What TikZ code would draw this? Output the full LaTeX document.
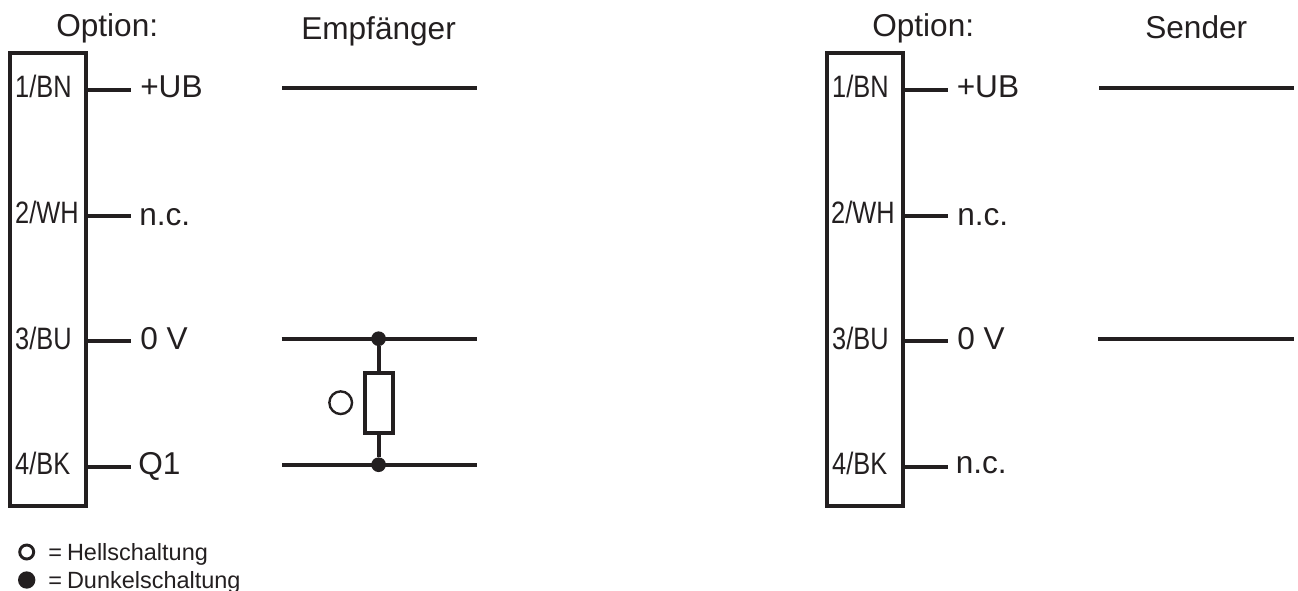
\documentclass[tikz,border=0pt]{standalone}
\usepackage{fontspec}
\setmainfont{Liberation Sans}
\definecolor{ink}{HTML}{231F20}
\tikzset{
 wire/.style={line width=3pt,color=ink},
 connbox/.style={draw=ink,line width=3.1pt,inner sep=0,outer sep=0,minimum width=57pt,minimum height=340pt,anchor=north west},
 big/.style={inner sep=0,text=ink,font=\fontsize{23.7}{26}\selectfont,anchor=base west},
 pin/.style={inner sep=0,text=ink,font=\fontsize{23.2}{26}\selectfont,anchor=base west,xscale=.82},
 small/.style={inner sep=0,text=ink,font=\fontsize{17.6}{20}\selectfont,anchor=base west},
 dot/.style={circle,fill=ink,inner sep=0,outer sep=0,minimum size=11pt},
}
\begin{document}
\begin{tikzpicture}[x=0.75pt,y=-0.75pt]
\useasboundingbox (0,0) rectangle (1298,590);
\node[connbox] (boxL) at (10,53) {};
\node[connbox] (boxR) at (827,53) {};
\node[big] (optL) at (56,36) {Option:};
\node[big] (emp) at (301,39) {Empfänger};
\node[big] (optR) at (872,36) {Option:};
\node[big] (sen) at (1145,38) {Sender};
\foreach \n/\t/\y/\b/\xa/\xb in {1/1\slash BN/90/97/15/832,2/2\slash WH/215.5/223/15/831,3/3\slash BU/341/349/15/832,4/4\slash BK/467/474/15/832}{
 \node[pin] (pl\n) at (\xa,\b) {\t};
 \node[pin] (pr\n) at (\xb,\b) {\t};
 \coordinate (bl\n) at (131,\y);
 \coordinate (br\n) at (948,\y);
 \draw[wire] (boxL.east |- bl\n) -- (bl\n);
 \draw[wire] (boxR.east |- br\n) -- (br\n);
}
\node[big] (lab1) at (140,97) {+UB};
\node[big] (lab2) at (139,225) {n.c.};
\node[big] (lab3) at (140,349) {0 V};
\node[big] (lab4) at (138,474) {Q1};
\node[big] (rab1) at (956.5,97) {+UB};
\node[big] (rab2) at (957,225) {n.c.};
\node[big] (rab3) at (957,349) {0 V};
\node[big] (rab4) at (955.5,473) {n.c.};
\coordinate (w1a) at (282,87.7); \coordinate (w1b) at (477,87.7);
\draw[wire] (w1a) -- (w1b);
\coordinate (w3a) at (281.5,338.7); \coordinate (w3b) at (477,338.7);
\draw[wire] (w3a) -- (w3b);
\coordinate (w4a) at (282,464.7); \coordinate (w4b) at (477,464.7);
\draw[wire] (w4a) -- (w4b);
\coordinate (s1a) at (1099,87.7); \coordinate (s1b) at (1294,87.7);
\draw[wire] (s1a) -- (s1b);
\coordinate (s3a) at (1098,338.7); \coordinate (s3b) at (1294,338.7);
\draw[wire] (s3a) -- (s3b);
\node[dot] (d3) at (378.6,338.7) {};
\node[dot] (d4) at (378.6,464.7) {};
\node[draw=ink,line width=3pt,inner sep=0,outer sep=0,minimum width=21pt,minimum height=45pt] (res) at (379,403) {};
\draw[wire] (d3) -- (d3 |- res.north);
\draw[wire] (d4 |- res.south) -- (d4);
\node[circle,draw=ink,line width=1.8pt,inner sep=0,minimum size=17pt] (ro) at (340.7,402.7) {};
\node[circle,draw=ink,line width=2.2pt,inner sep=0,minimum size=10.5pt] (lo) at (26.7,552) {};
\node[circle,fill=ink,inner sep=0,minimum size=13pt] (li) at (26.7,580) {};
\node[small] (t1) at (48,560) {=\hspace{3.8pt}Hellschaltung};
\node[small] (t2) at (48,588) {=\hspace{3.8pt}Dunkelschaltung};
\end{tikzpicture}
\end{document}
